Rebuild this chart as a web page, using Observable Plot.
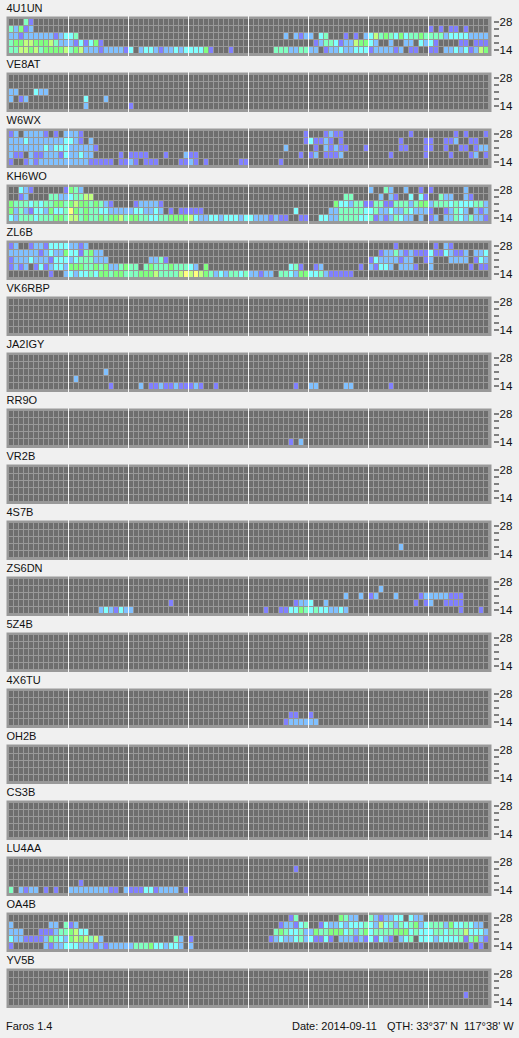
<!DOCTYPE html>
<html>
<head>
<meta charset="utf-8">
<script src="https://cdn.jsdelivr.net/npm/d3@7"></script>
<script src="https://cdn.jsdelivr.net/npm/@observablehq/plot@0.6"></script>
<style>
html,body{margin:0;padding:0;background:#f0f0f0;width:519px;height:1038px;overflow:hidden}
svg{display:block;background:transparent!important}
#foot{position:relative;height:30px;font:11px "Liberation Sans",sans-serif;color:#111}
#foot span{position:absolute;top:12px;white-space:pre}
</style>
</head>
<body>
<div id="chart"></div>
<div id="foot"><span style="left:6px">Faros 1.4</span><span style="left:292px">Date: 2014-09-11</span><span style="left:387px">QTH: 33°37' N</span><span style="left:464px">117°38' W</span></div>
<script>
// Signal level per beacon: five rows (28, 24, 21, 18, 14 MHz), each a list of [first column, levels]
const stations = ["4U1UN","VE8AT","W6WX","KH6WO","ZL6B","VK6RBP","JA2IGY","RR9O","VR2B","4S7B","ZS6DN","5Z4B","4X6TU","OH2B","CS3B","LU4AA","OA4B","YV5B"];
const bands = [28,24,21,18,14];
const labelledBands = [28,14];
const levelColors = ["#6e6e6e","#8080ff","#80c0ff","#80ffff","#80ffc0","#80ff80","#c0ff80","#ffff80"];
const columns = d3.range(96);
const hourLines = [12,24,36,48,60,72,84];

const s4U1UN = [
 [[3,"41"]],
 [[0,"42512"],[84,"10101101"]],
 [[0,"22122222212334"],[55,"2"],[57,"2122034"],[67,"1010"],[71,"2364543534454444"],[87,"233332222"]],
 [[0,"4556655564222131351"],[61,"1244312265532"],[76,"2"],[79,"22"],[82,"3231"],[90,"11"],[93,"111"]],
 [[0,"4466564555"],[10,"5645622212"],[20,"2221302332"],[30,"1223233335"],[40,"1"],[44,"1"],[53,"444224422"],[62,"0122322333"],[72,"1222212"],[79,"01100110"],[87,"223231265"]]
];
const sVE8AT = [[],[],[[0,"22"],[5,"322"]],[[0,"2"],[2,"12"],[15,"3"],[19,"2"]],[[15,"2"],[24,"1"]]];
const sW6WX = [
 [[0,"120222210102221"],[59,"1"],[63,"1211"],[80,"1"],[89,"1"],[91,"1"],[95,"1"]],
 [[0,"22232222222332102"],[59,"13112101"],[78,"1"],[83,"11"],[87,"112"],[92,"11"]],
 [[0,"222222232333222221"],[55,"2"],[61,"1"],[63,"21211"],[71,"1"],[78,"11"],[83,"11"],[87,"1"],[90,"11"],[93,"122"]],
 [[0,"21102112221322322"],[22,"1"],[24,"1111"],[31,"1"],[35,"211"],[58,"1"],[60,"12"],[63,"1112"],[76,"1"],[83,"1"],[88,"1"],[92,"12"],[95,"1"]],
 [[0,"1"],[3,"1212222222222"],[16,"11111"],[22,"1121"],[27,"111"],[34,"1121"],[39,"1"],[46,"11"],[54,"1"]]
];
const sKH6WO = [
 [[2,"321"],[11,"1542"],[72,"2"],[75,"42"],[79,"2"],[82,"1"],[84,"1"],[91,"2"]],
 [[2,"12"],[8,"442234466"],[67,"44"],[74,"2"],[76,"21"],[80,"3"],[82,"31"],[86,"422"],[91,"21"]],
 [[0,"544434344554565545421"],[25,"122221"],[65,"5332441144114442455244434333442"]],
 [[0,"5242133253347"],[13,"545443322222"],[25,"332232"],[32,"1"],[34,"11111"],[57,"3"],[64,"224444433422322432221"],[87,"12432"],[93,"212"]],
 [[0,"3244434445"],[10,"5466454454"],[20,"5564554433"],[30,"4455556322"],[40,"3323332332"],[50,"221211"],[58,"11"],[62,"33224444334121243220"],[82,"20120"],[87,"224324221"]]
];
const sZL6B = [
 [[0,"12"],[4,"122133332212"],[77,"1"],[85,"1"],[87,"21"]],
 [[0,"2222221232253314522"],[74,"1224212111311321120223"]],
 [[0,"12223222133323444222"],[28,"2241"],[72,"132222122"],[83,"12"],[88,"2222"],[93,"132"]],
 [[0,"1212013123"],[10,"3255544545"],[20,"224544"],[27,"4544454443205"],[56,"341"],[61,"12"],[70,"1"],[72,"21332"],[78,"2221"],[84,"2"],[92,"1"],[94,"11"]],
 [[8,"1"],[11,"2323343554"],[21,"5544455564"],[31,"4446767654"],[41,"2324434221"],[51,"22"],[54,"443255334211111"]]
];
const sVK6RBP = [[],[],[],[],[]];
const sJA2IGY = [[],[],[[19,"2"]],[[13,"2"]],[[20,"1"],[26,"2"],[28,"1121121112"],[38,"1"],[41,"1"],[57,"1"],[60,"22"],[67,"22"],[76,"1"]]];
const sRR9O = [[],[],[],[],[[56,"1"],[58,"2"]]];
const sVR2B = [[],[],[],[],[]];
const s4S7B = [[],[],[],[[78,"2"]],[]];
const sZS6DN = [
 [],
 [[74,"2"]],
 [[67,"2"],[70,"2"],[72,"12"],[77,"2"],[82,"122222"],[88,"111"]],
 [[32,"1"],[57,"1223"],[63,"2"],[81,"1"],[83,"12"],[87,"1111"]],
 [[18,"2321322"],[51,"1"],[54,"113354343322"],[66,"32"],[90,"1"],[94,"1"]]
];
const s5Z4B = [[],[],[],[],[]];
const s4X6TU = [[],[],[],[[56,"11"],[60,"1"]],[[55,"1222222"]]];
const sOH2B = [[],[],[],[],[]];
const sCS3B = [[],[],[],[],[]];
const sLU4AA = [[],[[57,"1"]],[],[[14,"1"]],[[0,"4"],[2,"2122"],[7,"1"],[9,"1"],[12,"222222221102111331222201"]]];
const sOA4B = [
 [[56,"14"],[66,"5422"],[72,"42122330322"]],
 [[0,"2"],[8,"22"],[11,"412"],[54,"122134"],[62,"13223233"],[70,"34326342"],[78,"43452344"],[86,"425334322"]],
 [[0,"222"],[6,"1112445633"],[53,"4543342254"],[63,"4555342453"],[73,"4444555343"],[83,"3344344463"],[93,"332"]],
 [[0,"3221111254"],[10,"325656462"],[33,"42"],[36,"1"],[52,"1232234231"],[62,"1310"],[66,"222121"],[72,"31321"],[77,"0234"],[81,"0333"],[85,"23333414521"]],
 [[0,"1"],[7,"2122333222"],[17,"1212222244"],[27,"45332332"],[36,"2"],[92,"1"],[94,"1"]]
];
const sYV5B = [[],[],[],[[91,"1"]],[]];
const stationRows = [s4U1UN,sVE8AT,sW6WX,sKH6WO,sZL6B,sVK6RBP,sJA2IGY,sRR9O,sVR2B,s4S7B,sZS6DN,s5Z4B,s4X6TU,sOH2B,sCS3B,sLU4AA,sOA4B,sYV5B];

const font = '"Liberation Sans", sans-serif';
function cellsOf(rows){
  const out = [];
  bands.forEach((band,i)=>{
    const lv = new Array(96).fill(0);
    for(const [start,str] of rows[i]) for(let j=0;j<str.length;j++) lv[start+j] = +str[j];
    columns.forEach(c=>out.push({col:c,band,level:lv[c]}));
  });
  return out;
}
const chart = document.getElementById("chart");
stations.forEach((name,idx)=>{
  const p = Plot.plot({
    width:519,height:56,
    marginTop:16,marginBottom:0,marginLeft:6,marginRight:28,
    style:{fontFamily:font,fontSize:"11px",color:"#111",background:"transparent"},
    x:{type:"band",domain:columns,range:[8,488],padding:0,round:false,axis:null},
    y:{type:"band",domain:bands,range:[18,53],padding:0,round:false,axis:null},
    color:{type:"ordinal",domain:d3.range(levelColors.length),range:levelColors},
    marks:[
      Plot.frame({fill:"#999999",stroke:null}),
      Plot.cell(cellsOf(stationRows[idx]),{x:"col",y:"band",fill:"level",insetLeft:1,insetTop:1,insetRight:0,insetBottom:0,shapeRendering:"crispEdges"}),
      Plot.ruleX(hourLines,{x:d=>d,dx:-2.5,stroke:"#f4f4f4",strokeWidth:1,shapeRendering:"crispEdges"}),
      Plot.axisY(bands,{anchor:"right",label:null,tickSize:5,tickPadding:1,dx:2,stroke:"#111",fill:"#111",
        tickFormat:d=>labelledBands.includes(d)?String(d):"",fontSize:11.5}),
      Plot.text([name],{frameAnchor:"top-left",dy:-8,dx:0,textAnchor:"start",lineAnchor:"middle",fill:"#111",fontSize:11})
    ]
  });
  chart.appendChild(p);
});
</script>
</body>
</html>
